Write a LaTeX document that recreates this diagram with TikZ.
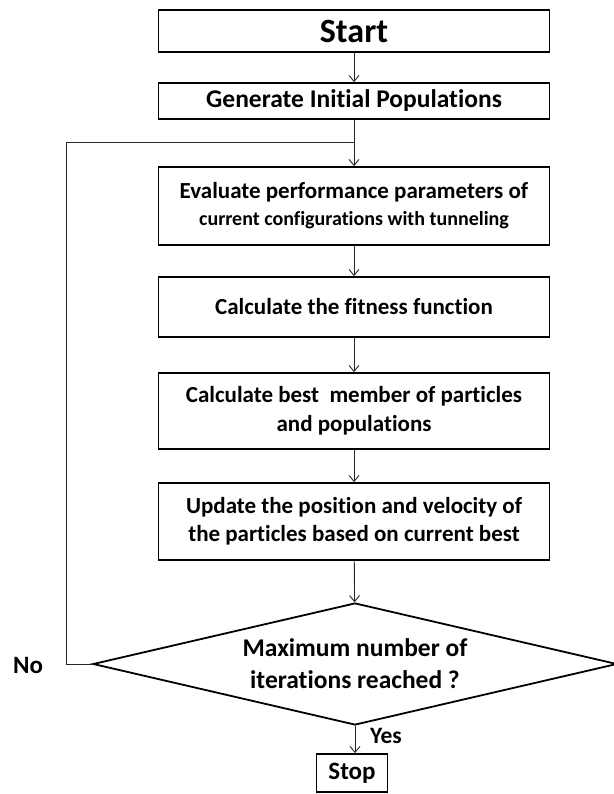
\documentclass[tikz,border=0pt]{standalone}
\usepackage{fontspec}
\setmainfont{Carlito}[Ligatures=NoCommon]
\usepackage{tikz}
\usetikzlibrary{positioning, arrows.meta, shapes.geometric, calc}
\definecolor{lineGray}{RGB}{40, 40, 40}

\begin{document}
\begin{tikzpicture}[x=1pt, y=-1pt, font=\bfseries,
    procbox/.style={draw=black, line width=1.8pt, minimum width=391pt, align=center, inner sep=0pt},
    flow/.style={-{Straight Barb[length=6pt, width=10pt]}, lineGray, line width=0.9pt}]
        \useasboundingbox (0,0) rectangle (613,794);
        % main chain of steps
        \node[procbox, minimum height=42pt, font=\fontsize{34}{36}\bfseries] (start) at (354,31) {Start};
        \node[procbox, minimum height=36pt, font=\fontsize{25.5}{28}\bfseries] (gen) at (354,101) {Generate Initial Populations};
        \node[procbox, minimum height=78pt, font=\fontsize{23}{27}\bfseries] (eval) at (354,206)
            {Evaluate performance parameters of\\{\fontsize{20}{22}\selectfont current configurations with tunneling}};
        \node[procbox, minimum height=60pt, font=\fontsize{23}{26}\bfseries] (fit) at (354,307) {Calculate the fitness function};
        \node[procbox, minimum height=76pt, font=\fontsize{23}{29}\bfseries] (best) at (354,411)
            {Calculate best\ \ member of particles\\and populations};
        \node[procbox, minimum height=77pt, font=\fontsize{23}{28}\bfseries] (upd) at (354,521.5)
            {Update the position and velocity of\\the particles based on current best};
        % decision and end
        \node[diamond, draw=black, line width=1.8pt, minimum width=524pt, minimum height=122pt, inner sep=0pt,
            aspect=4.3, align=center, font=\fontsize{25.5}{32}\bfseries] (dec) at (355,664)
            {Maximum number of\\iterations reached ?};
        \node[procbox, minimum width=71pt, minimum height=38pt, font=\fontsize{25}{27}\bfseries] (stop) at (352,773) {Stop};
        \node[font=\fontsize{25}{27}\bfseries] (no) at (28,665) {No};
        \node[font=\fontsize{23.5}{26}\bfseries] (yes) at (386,736) {Yes};
        \coordinate (join) at (354,142);
        % connectors
        \draw[flow] (start) -- (gen);
        \draw[flow] (gen) -- (eval);
        \draw[flow] (eval) -- (fit);
        \draw[flow] (fit) -- (best);
        \draw[flow] (best) -- (upd);
        \draw[flow] (upd) -- (dec);
        \draw[flow] (dec.south) -- (dec.south |- stop.north);
        \draw[lineGray, line width=0.9pt] (dec.west) -- ++(-26,0) |- (join);
\end{tikzpicture}
\end{document}
